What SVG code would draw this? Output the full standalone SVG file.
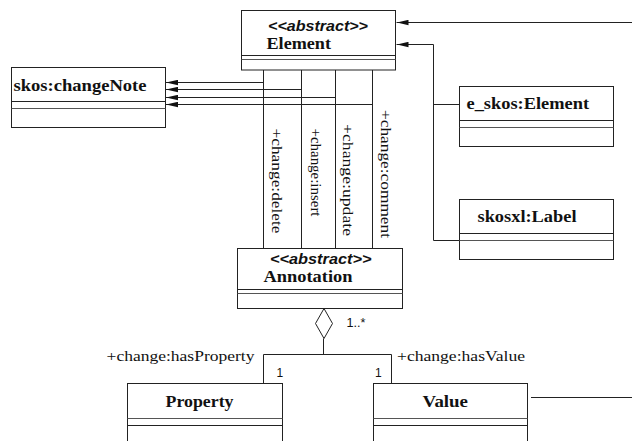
<svg xmlns="http://www.w3.org/2000/svg" width="632" height="441" viewBox="0 0 632 441">
<defs>
<style>
.box{fill:#fff;stroke:#222;stroke-width:1}
.div1{stroke:#222;stroke-width:1}
.div2{stroke:#555;stroke-width:1.2}
.ln{fill:none;stroke:#222;stroke-width:1}
.name{font-family:"Liberation Serif","DejaVu Serif",serif;font-weight:bold;font-size:17.5px;fill:#111}
.stereo{font-family:"Liberation Sans","DejaVu Sans",sans-serif;font-weight:bold;font-style:italic;font-size:15px;fill:#111}
.lbl{font-family:"Liberation Serif","DejaVu Serif",serif;font-size:14.5px;fill:#111}
.mult{font-family:"Liberation Sans","DejaVu Sans",sans-serif;font-size:12px;fill:#111}
</style>
<marker id="arr" viewBox="0 0 12 6" refX="12" refY="3" markerWidth="12" markerHeight="6" markerUnits="userSpaceOnUse" orient="auto">
<path d="M0,0.3 L12,3 L0,5.7 Z" fill="#111"/>
</marker>
</defs>

<g id="connectors">
<line class="ln" x1="632" y1="22.5" x2="396.5" y2="22.5" marker-end="url(#arr)"/>
<path class="ln" d="M459.5,240.5 H433.5 V44.5 H396.5" marker-end="url(#arr)"/>
<line class="ln" x1="459.5" y1="104.5" x2="433.5" y2="104.5"/>
<line class="ln" x1="263.5" y1="70" x2="263.5" y2="248.5"/>
<line class="ln" x1="301.5" y1="70" x2="301.5" y2="248.5"/>
<line class="ln" x1="335.5" y1="70" x2="335.5" y2="248.5"/>
<line class="ln" x1="372.5" y1="70" x2="372.5" y2="248.5"/>
<line class="ln" x1="263.5" y1="82.5" x2="166" y2="82.5" marker-end="url(#arr)"/>
<line class="ln" x1="301.5" y1="89.5" x2="166" y2="89.5" marker-end="url(#arr)"/>
<line class="ln" x1="335.5" y1="97.5" x2="166" y2="97.5" marker-end="url(#arr)"/>
<line class="ln" x1="372.5" y1="104.5" x2="166" y2="104.5" marker-end="url(#arr)"/>
<text class="lbl" transform="translate(272,128.5) rotate(90)" textLength="105" lengthAdjust="spacingAndGlyphs">+change:delete</text>
<text class="lbl" transform="translate(311,128.5) rotate(90)" textLength="88" lengthAdjust="spacingAndGlyphs">+change:insert</text>
<text class="lbl" transform="translate(343,124) rotate(90)" textLength="112" lengthAdjust="spacingAndGlyphs">+change:update</text>
<text class="lbl" transform="translate(381,110) rotate(90)" textLength="128" lengthAdjust="spacingAndGlyphs">+change:comment</text>
<polygon points="324,308.5 332.5,323.5 324,338.5 315.5,323.5" fill="#fff" stroke="#222" stroke-width="1"/>
<path class="ln" d="M323.5,338.5 V354.5 M263.5,383.5 V354.5 H391.5 V383.5"/>
<line class="ln" x1="531" y1="397.5" x2="632" y2="397.5"/>
<text class="mult" x="346.5" y="327" textLength="19" lengthAdjust="spacingAndGlyphs">1..*</text>
<text class="lbl" x="106.5" y="361" textLength="148" lengthAdjust="spacingAndGlyphs">+change:hasProperty</text>
<text class="lbl" x="397" y="361" textLength="128" lengthAdjust="spacingAndGlyphs">+change:hasValue</text>
<text class="mult" x="276.5" y="377">1</text>
<text class="mult" x="375" y="377">1</text>
</g>

<g id="element">
<rect class="box" x="241.5" y="10.5" width="154" height="59.5"/>
<line class="div1" x1="241.5" y1="55.5" x2="395.5" y2="55.5"/>
<line class="div2" x1="241.5" y1="59.5" x2="395.5" y2="59.5"/>
<text class="stereo" x="268" y="30.5" textLength="100" lengthAdjust="spacingAndGlyphs">&lt;&lt;abstract&gt;&gt;</text>
<text class="name" x="266.5" y="49" textLength="64.5" lengthAdjust="spacingAndGlyphs">Element</text>
</g>

<g id="changeNote">
<rect class="box" x="11.5" y="67.5" width="154" height="60"/>
<line class="div1" x1="11.5" y1="101.5" x2="165.5" y2="101.5"/>
<line class="div2" x1="11.5" y1="108.5" x2="165.5" y2="108.5"/>
<text class="name" x="13.5" y="90.5" textLength="133" lengthAdjust="spacingAndGlyphs">skos:changeNote</text>
</g>

<g id="eskosElement">
<rect class="box" x="459.5" y="86.5" width="154" height="60"/>
<line class="div1" x1="459.5" y1="120.5" x2="613.5" y2="120.5"/>
<line class="div2" x1="459.5" y1="127.5" x2="613.5" y2="127.5"/>
<text class="name" x="466.5" y="108.5" textLength="122.5" lengthAdjust="spacingAndGlyphs">e_skos:Element</text>
</g>

<g id="skosxlLabel">
<rect class="box" x="459.5" y="199.5" width="154" height="60"/>
<line class="div1" x1="459.5" y1="233.5" x2="613.5" y2="233.5"/>
<line class="div2" x1="459.5" y1="240.5" x2="613.5" y2="240.5"/>
<text class="name" x="477.5" y="222" textLength="99" lengthAdjust="spacingAndGlyphs">skosxl:Label</text>
</g>

<g id="annotation">
<rect class="box" x="237.5" y="248.5" width="165" height="60"/>
<line class="div1" x1="237.5" y1="289.5" x2="402.5" y2="289.5"/>
<line class="div2" x1="237.5" y1="293.5" x2="402.5" y2="293.5"/>
<text class="stereo" x="270" y="264" textLength="101.5" lengthAdjust="spacingAndGlyphs">&lt;&lt;abstract&gt;&gt;</text>
<text class="name" x="263.5" y="282" textLength="89" lengthAdjust="spacingAndGlyphs">Annotation</text>
</g>

<g id="property">
<rect class="box" x="127.5" y="383.5" width="155" height="70"/>
<line class="div2" x1="127.5" y1="418.5" x2="282.5" y2="418.5"/>
<line class="div1" x1="127.5" y1="425.5" x2="282.5" y2="425.5"/>
<text class="name" x="165.5" y="407" textLength="68" lengthAdjust="spacingAndGlyphs">Property</text>
</g>

<g id="value">
<rect class="box" x="373.5" y="383.5" width="154" height="70"/>
<line class="div2" x1="373.5" y1="418.5" x2="527.5" y2="418.5"/>
<line class="div1" x1="373.5" y1="425.5" x2="527.5" y2="425.5"/>
<text class="name" x="422.5" y="407" textLength="45.5" lengthAdjust="spacingAndGlyphs">Value</text>
</g>
</svg>
